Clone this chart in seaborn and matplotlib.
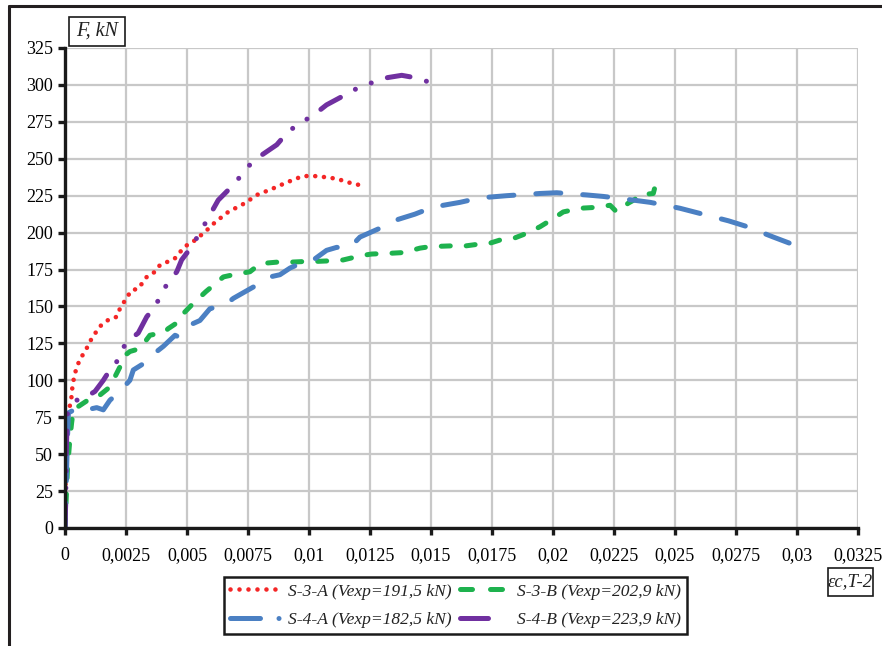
import matplotlib
matplotlib.use("Agg")
import matplotlib.pyplot as plt
from matplotlib.lines import Line2D
from matplotlib.patches import Rectangle
from matplotlib.ticker import MultipleLocator, FuncFormatter
import seaborn as sns

# Load-strain curves (strain eps_c,T-2, force F in kN)
s3a_strain = [0, 0.00003, 0.0001, 0.00025, 0.0003, 0.00037, 0.00048, 0.00064, 0.00082, 0.0011,
              0.00143, 0.00178, 0.00212, 0.00225, 0.00253, 0.00273, 0.0030, 0.00335, 0.00369, 0.00389,
              0.00417, 0.0045, 0.0049, 0.00526, 0.00574, 0.00615, 0.00669, 0.00738, 0.00786, 0.00847,
              0.00909, 0.0097, 0.01004, 0.01045, 0.01113, 0.01182, 0.01216]
s3a_force = [0, 40, 76.5, 86, 95, 102, 109, 115, 119.5, 128.5,
             136.5, 141, 143, 148.5, 156, 161, 162, 170, 173.5, 178,
             180, 182.5, 190.5, 194, 200.5, 207, 214, 220, 225.5, 229.5,
             234, 238, 238.5, 238, 236.5, 233, 232]

s3b_strain = [0, 0.00005, 0.0001, 0.0002, 0.00027, 0.00034, 0.00116, 0.00143, 0.00184, 0.00205,
              0.00225, 0.00239, 0.00266, 0.00307, 0.00348, 0.00376, 0.00403, 0.00423, 0.00464, 0.00478,
              0.00519, 0.00577, 0.00649, 0.0069, 0.00758, 0.008, 0.00868, 0.00922, 0.0099, 0.0103,
              0.011, 0.0114, 0.01216, 0.01257, 0.01332, 0.01387, 0.01455, 0.01496, 0.01578, 0.01619,
              0.01687, 0.01735, 0.01783, 0.01837, 0.01899, 0.01947, 0.02001, 0.02042, 0.02111, 0.02165,
              0.02234, 0.02261, 0.02309, 0.02336, 0.0235, 0.02411, 0.02418, 0.02425]
s3b_force = [0, 20, 40, 60, 71, 80, 89, 90, 95.5, 102.5,
             109, 116, 119.5, 121.5, 130.5, 131.5, 132, 135, 139.5, 144,
             151, 160, 170, 171.5, 173.5, 179, 180, 180, 180.5, 180.5,
             181, 181.5, 184.5, 185.5, 186, 186.5, 189.5, 190.5, 191, 190.5,
             192, 192.5, 195, 196, 200, 204, 209.5, 214, 216.5, 217,
             218.5, 214, 220, 222.5, 225.5, 226.5, 231, 236.5]

s4a_strain = [0, 0.00005, 0.0001, 0.00014, 0.00061, 0.00102, 0.0013, 0.00157, 0.00184, 0.00225,
              0.00266, 0.0028, 0.00314, 0.00348, 0.00376, 0.00403, 0.00451, 0.00464, 0.00499, 0.00553,
              0.00594, 0.00656, 0.0069, 0.00738, 0.00786, 0.0084, 0.00881, 0.00922, 0.00963, 0.01018,
              0.01072, 0.01113, 0.01168, 0.01209, 0.01291, 0.01366, 0.01434, 0.01496, 0.0155, 0.01619,
              0.017, 0.0181, 0.01947, 0.02015, 0.02138, 0.02206, 0.02329, 0.02398, 0.0252, 0.02602,
              0.02719, 0.02787, 0.02903, 0.02999]
s4a_force = [0, 30, 60, 78, 82, 80.5, 81.5, 80, 86.5, 92.5,
             100, 107, 110.5, 113.5, 119.5, 123, 130.5, 129.5, 136.5, 140.5,
             148.5, 151, 155.5, 160, 164.5, 170, 171.5, 176, 179, 181.5,
             188, 190, 190, 197, 203, 209, 212.5, 216.5, 218.5, 220.5,
             223.5, 225, 226.5, 227, 225.5, 224.5, 222, 220.5, 216.5, 213,
             208, 204.5, 197, 191]

s4b_strain = [0, 0.00003, 0.00005, 0.0001, 0.0002, 0.00048, 0.00089, 0.00123, 0.00157, 0.00184,
              0.00205, 0.00223, 0.00232, 0.00253, 0.003, 0.00335, 0.00369, 0.0041, 0.00437, 0.00458,
              0.00478, 0.00519, 0.0056, 0.00594, 0.00628, 0.00676, 0.00724, 0.00758, 0.00806, 0.00868,
              0.00915, 0.00963, 0.01018, 0.01072, 0.01134, 0.01195, 0.0125, 0.01305, 0.0138, 0.01448,
              0.01523, 0.01537]
s4b_force = [0, 20, 50, 78, 80, 86.5, 89, 92.5, 100, 107,
             110.5, 116, 120, 126, 132, 143, 150, 163, 169, 173.5,
             181.5, 190.5, 202, 212, 222, 230, 239, 246, 252.5, 259.5,
             268.5, 274, 279.5, 286.5, 292, 297.5, 301, 304.5, 306.5, 304.5,
             300, 297.5]

labels = ["S-3-A (Vexp=191,5 kN)", "S-3-B (Vexp=202,9 kN)",
          "S-4-A (Vexp=182,5 kN)", "S-4-B (Vexp=223,9 kN)"]
colors = ["#F42626", "#1EB24E", "#4B80C3", "#7030A0"]

sns.set_theme(style="white")
plt.rcParams["font.family"] = ["Liberation Serif", "DejaVu Serif"]

W, H = 882, 646
fig = plt.figure(figsize=(W / 100, H / 100), dpi=100)
ax = fig.add_axes([65 / W, 118 / H, 793 / W, 480 / H])

# line styles along the curves
styles = [
    dict(lw=3.3, ls=(0, (0.01, 1.9))),
    dict(lw=3.6, ls=(0, (1.8, 3.2))),
    dict(lw=3.6, ls=(0, (5.0, 4.4))),
    dict(lw=3.6, ls=(0, (4.6, 3.4, 0.01, 3.4, 0.01, 3.4))),
]
data = [(s3a_strain, s3a_force), (s3b_strain, s3b_force),
        (s4a_strain, s4a_force), (s4b_strain, s4b_force)]

for (xs, ys), col, st, z in zip(data, colors, styles, [3, 4, 5, 6]):
    sns.lineplot(x=xs, y=ys, ax=ax, color=col, sort=False, estimator=None,
                 legend=False, dash_capstyle="round", solid_capstyle="round",
                 zorder=z, **st)

ax.set_xlim(0, 0.0325)
ax.set_ylim(0, 325)
ax.xaxis.set_major_locator(MultipleLocator(0.0025))
ax.yaxis.set_major_locator(MultipleLocator(25))


def comma_fmt(v, pos):
    s = f"{v:.4f}".rstrip("0").rstrip(".")
    return s.replace(".", ",")


ax.xaxis.set_major_formatter(FuncFormatter(comma_fmt))
ax.yaxis.set_major_formatter(FuncFormatter(lambda v, p: f"{v:.0f}"))
ax.set_xlabel("")
ax.set_ylabel("")

ax.grid(True, color="#c8c8c8", lw=1.6)
ax.set_axisbelow(True)
for side in ["top", "right"]:
    ax.spines[side].set_visible(False)
for side in ["left", "bottom"]:
    ax.spines[side].set_color("#1a1a1a")
    ax.spines[side].set_linewidth(2.4)
    ax.spines[side].set_zorder(7)
ax.tick_params(axis="both", which="major", direction="out", length=5, width=2.4,
               color="#1a1a1a", labelcolor="black", labelsize=13,
               bottom=True, left=True)
ax.tick_params(axis="x", pad=9)
ax.tick_params(axis="y", pad=3.5)

# legend samples
handles = [
    Line2D([], [], color=colors[0], lw=3.3, ls=(0, (0.01, 1.95)), dash_capstyle="round"),
    Line2D([], [], color=colors[2], lw=3.6, ls=(0, (6.0, 3.7, 0.01, 10)), dash_capstyle="round"),
    Line2D([], [], color=colors[1], lw=3.6, ls=(0, (2.4, 3.6)), dash_capstyle="round"),
    Line2D([], [], color=colors[3], lw=3.6, ls=(0, (5.6, 10)), dash_capstyle="round"),
]
leg_labels = [labels[0], labels[2], labels[1], labels[3]]
leg = fig.legend(handles, leg_labels, ncol=2, loc="upper left",
                 bbox_to_anchor=(224 / W, 1 - 577 / H), borderaxespad=0,
                 prop=dict(family="Liberation Serif", style="italic", size=12.6),
                 handlelength=2.85, handletextpad=0.42, columnspacing=0.5,
                 labelspacing=0.7, borderpad=0.36, fancybox=False,
                 frameon=True, edgecolor="#1a1a1a", framealpha=1)
leg.get_frame().set_linewidth(1.8)
for t in leg.get_texts():
    t.set_color("#222222")


def boxed_label(text, x0, y0, x1, y1, size):
    # framed caption placed by pixel corners (top-left origin)
    fig.add_artist(Rectangle((x0 / W, 1 - y1 / H), (x1 - x0) / W, (y1 - y0) / H,
                             transform=fig.transFigure, fc="white", ec="#1a1a1a",
                             lw=1.2, zorder=8))
    fig.text((x0 + x1) / 2 / W, 1 - (y0 + y1) / 2 / H, text, ha="center",
             va="center", style="italic", size=size, color="#222222", zorder=9)


boxed_label("F, kN", 69, 17, 125, 46, 14.5)
boxed_label("εc,T-2", 828, 568, 873, 596, 13.5)

# outer frame edges
fig.add_artist(Line2D([8.5 / W, 1], [1 - 6 / H, 1 - 6 / H], transform=fig.transFigure,
                      color="#231f20", lw=2.2))
fig.add_artist(Line2D([9 / W, 9 / W], [0, 1 - 6 / H], transform=fig.transFigure,
                      color="#231f20", lw=2.2))

fig.savefig("out.png", dpi=100)
